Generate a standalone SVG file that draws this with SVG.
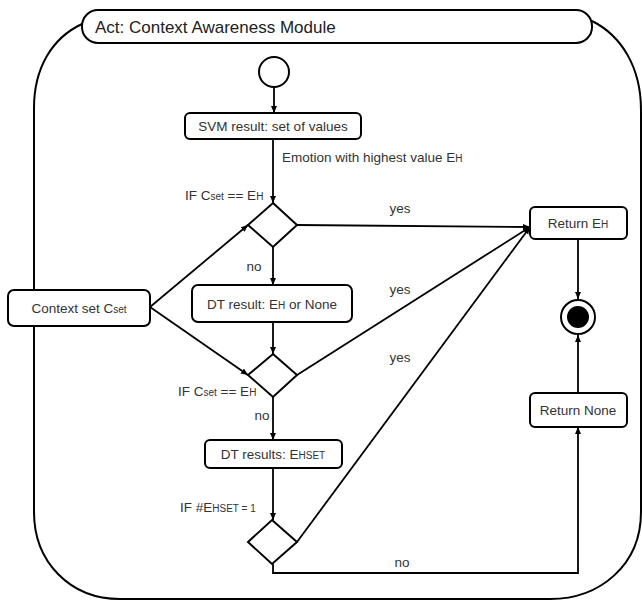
<svg xmlns="http://www.w3.org/2000/svg" width="642" height="601" viewBox="0 0 642 601">
<style>
.frame{fill:none;stroke:#000;stroke-width:2}
.box{fill:#fff;stroke:#000;stroke-width:2}
.dia{fill:#fff;stroke:#000;stroke-width:2}
.ln{fill:none;stroke:#000;stroke-width:1.8}
.arr{marker-end:url(#ah)}
text{font-family:"Liberation Sans",Arial,sans-serif;font-size:13.5px;fill:#333}
.c{text-anchor:middle}
.s{font-size:10px}
.title{font-size:17px;fill:#222}
</style>
<defs>
<marker id="ah" markerWidth="8" markerHeight="8" refX="7" refY="4" orient="auto" markerUnits="userSpaceOnUse">
<path d="M0,1 L7,4 L0,7 Z" fill="#000"/>
</marker>
</defs>
<rect width="642" height="601" fill="#fff"/>
<g id="frame">
<path class="frame" d="M82,24 C52,38 34,68 34,108 L34,512 C34,562 70,599 120,599 L550,599 C600,599 641,565 641,512 L641,110 C641,68 622,36 592,21"/>
<rect class="box" x="82" y="10" width="510" height="33" rx="16"/>
<text class="title" x="95" y="33">Act: Context Awareness Module</text>
</g>
<g id="connectors">
<line class="ln arr" x1="274" y1="87" x2="274" y2="113"/>
<line class="ln arr" x1="273" y1="139" x2="273" y2="203"/>
<line class="ln arr" x1="297" y1="225" x2="530" y2="227"/>
<line class="ln arr" x1="273" y1="247" x2="273" y2="285"/>
<line class="ln arr" x1="150" y1="307" x2="248" y2="225"/>
<line class="ln arr" x1="150" y1="307" x2="248" y2="375"/>
<line class="ln arr" x1="273" y1="322" x2="273" y2="354"/>
<line class="ln arr" x1="297" y1="375" x2="530" y2="227"/>
<line class="ln arr" x1="273" y1="397" x2="273" y2="440"/>
<line class="ln arr" x1="273" y1="468" x2="273" y2="520"/>
<line class="ln arr" x1="297" y1="542" x2="530" y2="227"/>
<polyline class="ln arr" points="273,564 273,573 578,573 578,427"/>
<line class="ln arr" x1="578" y1="239" x2="578" y2="299"/>
<line class="ln arr" x1="578" y1="393" x2="578" y2="335"/>
<text x="282" y="162">Emotion with highest value E<tspan class="s">H</tspan></text>
<text x="185" y="200">IF C<tspan class="s">set</tspan> == E<tspan class="s">H</tspan></text>
<text class="c" x="400" y="213">yes</text>
<text class="c" x="254" y="271">no</text>
<text class="c" x="400" y="294">yes</text>
<text class="c" x="400" y="362">yes</text>
<text x="178" y="396">IF C<tspan class="s">set</tspan> == E<tspan class="s">H</tspan></text>
<text class="c" x="262" y="420">no</text>
<text x="180" y="512">IF #E<tspan class="s">HSET = 1</tspan></text>
<text class="c" x="402" y="567">no</text>
</g>
<g id="start"><circle class="box" cx="274" cy="72" r="15"/></g>
<g id="svm"><rect class="box" x="185" y="113" width="176" height="26" rx="5"/><text class="c" x="273" y="131">SVM result: set of values</text></g>
<g id="dec1"><polygon class="dia" points="273,203 297,225 273,247 248,225"/></g>
<g id="context"><rect class="box" x="8" y="290" width="142" height="36" rx="6"/><text class="c" x="79" y="313">Context set C<tspan class="s">set</tspan></text></g>
<g id="dtresult"><rect class="box" x="192" y="285" width="160" height="37" rx="6"/><text class="c" x="272" y="309">DT result: E<tspan class="s">H</tspan> or None</text></g>
<g id="dec2"><polygon class="dia" points="273,354 297,375 273,397 248,375"/></g>
<g id="dtresults"><rect class="box" x="205" y="440" width="137" height="28" rx="5"/><text class="c" x="273" y="459">DT results: E<tspan class="s">HSET</tspan></text></g>
<g id="dec3"><polygon class="dia" points="272,520 297,542 272,564 248,542"/></g>
<g id="returnEH"><rect class="box" x="530" y="207" width="97" height="32" rx="5"/><text class="c" x="578" y="228">Return E<tspan class="s">H</tspan></text></g>
<g id="end"><circle cx="578" cy="317" r="17" fill="#fff" stroke="#000" stroke-width="2"/><circle cx="578" cy="317" r="11" fill="#000"/></g>
<g id="returnNone"><rect class="box" x="530" y="393" width="97" height="34" rx="5"/><text class="c" x="578" y="415">Return None</text></g>
</svg>
